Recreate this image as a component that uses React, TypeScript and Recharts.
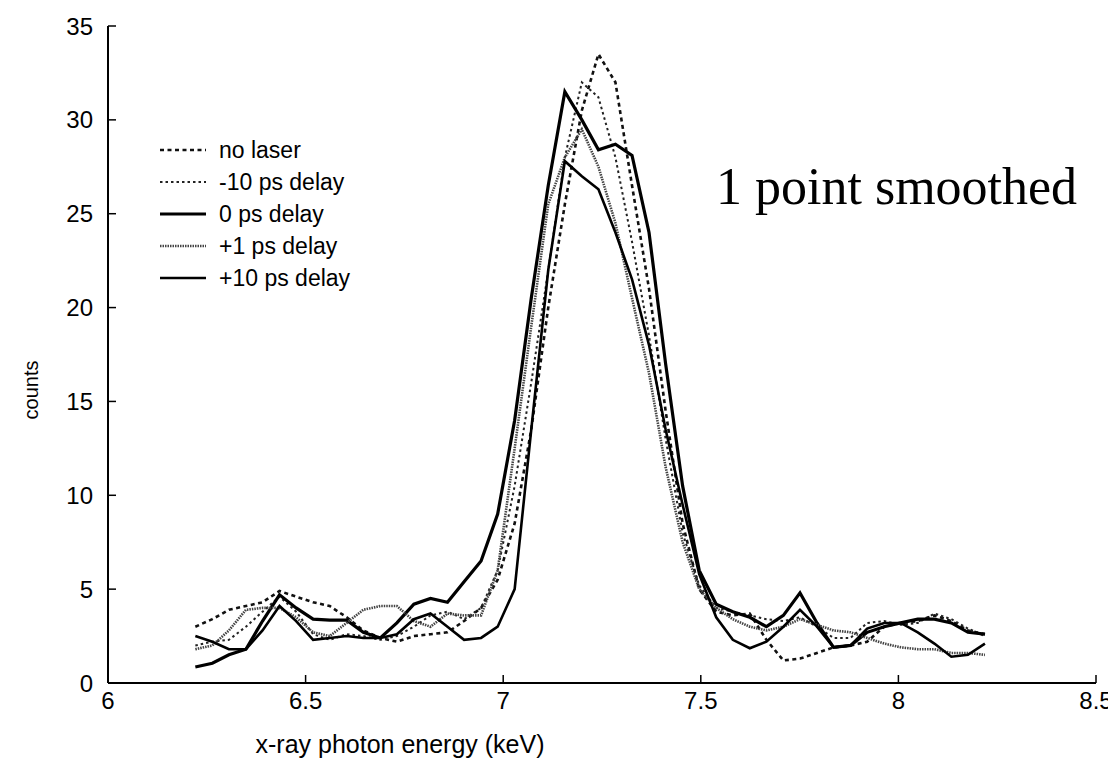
import React from 'react';
import { LineChart, Line, XAxis, YAxis, Legend, Customized } from 'recharts';

const energy = [6.221, 6.264, 6.306, 6.349, 6.391, 6.434, 6.476, 6.519, 6.561, 6.604, 6.646, 6.689, 6.731, 6.774, 6.816, 6.859, 6.901, 6.944, 6.986, 7.029, 7.071, 7.114, 7.156, 7.199, 7.241, 7.284, 7.326, 7.369, 7.411, 7.454, 7.496, 7.539, 7.581, 7.624, 7.666, 7.709, 7.751, 7.794, 7.836, 7.879, 7.921, 7.964, 8.006, 8.049, 8.091, 8.134, 8.176, 8.219];

const noLaser = [3.0, 3.4, 3.9, 4.1, 4.3, 4.9, 4.6, 4.3, 4.1, 3.5, 2.8, 2.4, 2.2, 2.5, 2.6, 2.7, 3.3, 4.0,
  5.5, 8.5, 13.5, 20.0, 25.5, 30.5, 33.5, 32.0, 26.5, 21.0, 14.5, 8.5,
  5.0, 3.8, 3.6, 3.7, 2.3, 1.2, 1.3, 1.6, 1.9, 2.0, 2.2, 3.0, 3.2, 3.3, 3.6, 3.3, 2.8, 2.6];

const minus10 = [2.0, 2.2, 2.3, 3.0, 3.8, 4.6, 3.8, 2.6, 2.3, 2.6, 2.5, 2.3, 2.5, 3.0, 3.6, 3.8, 3.4, 4.0,
  6.0, 10.5, 16.0, 22.0, 28.0, 32.0, 31.2, 28.0, 23.5, 18.5, 13.0, 8.0,
  5.2, 4.0, 3.8, 3.6, 3.4, 3.3, 3.5, 3.0, 2.4, 2.4, 3.2, 3.3, 3.1, 3.2, 3.7, 3.4, 2.9, 2.5];

const zeroPs = [0.85, 1.05, 1.5, 1.8, 3.3, 4.7, 4.0, 3.4, 3.35, 3.35, 2.7, 2.4, 3.2, 4.2, 4.5, 4.3, 5.4, 6.5,
  9.0, 14.0, 20.5, 26.5, 31.5, 30.0, 28.4, 28.7, 28.1, 24.0, 17.0, 10.5,
  6.0, 4.2, 3.8, 3.5, 3.0, 3.6, 4.8, 3.2, 1.9, 2.0, 2.7, 3.0, 3.2, 3.4, 3.4, 3.2, 2.7, 2.6];

const plusOne = [1.8, 2.0, 2.8, 3.9, 4.0, 4.0, 3.5, 2.7, 2.5, 3.2, 3.9, 4.1, 4.1, 3.3, 3.0, 3.7, 3.6, 3.6,
  6.0, 12.5, 19.0, 25.5, 28.0, 29.5, 27.5, 24.5, 20.5, 16.5, 11.5, 7.5,
  5.0, 4.0, 3.4, 3.0, 2.8, 3.0, 3.4, 3.1, 2.8, 2.7, 2.4, 2.1, 1.9, 1.8, 1.8, 1.6, 1.6, 1.5];

const plusTen = [2.5, 2.2, 1.8, 1.8, 2.8, 4.1, 3.3, 2.3, 2.4, 2.5, 2.4, 2.4, 2.6, 3.4, 3.7, 3.0, 2.3, 2.4,
  3.0, 5.0, 13.5, 22.0, 27.8, 27.0, 26.3, 24.0, 21.5, 18.0, 13.5, 9.5,
  5.8, 3.5, 2.3, 1.85, 2.2, 3.0, 3.9, 3.0, 1.9, 2.0, 2.9, 3.2, 3.2, 2.7, 2.1, 1.4, 1.5, 2.1];

const xTicks = [6, 6.5, 7, 7.5, 8, 8.5];
const yTicks = [0, 5, 10, 15, 20, 25, 30, 35];

const seriesNames = ['no laser', '-10 ps delay', '0 ps delay', '+1 ps delay', '+10 ps delay'];

const data = energy.map((e, i) => ({
  e,
  noLaser: noLaser[i],
  minus10: minus10[i],
  zeroPs: zeroPs[i],
  plusOne: plusOne[i],
  plusTen: plusTen[i],
}));

const styles = [
  { key: 'noLaser', stroke: '#111', width: 2.6, dash: '4 3.5' },
  { key: 'minus10', stroke: '#222', width: 2, dash: '2.5 3' },
  { key: 'zeroPs', stroke: '#000', width: 3.2, dash: undefined },
  { key: 'plusOne', stroke: '#444', width: 2.6, dash: '1.5 1' },
  { key: 'plusTen', stroke: '#000', width: 2.6, dash: undefined },
];

const FONT = '"Liberation Sans", Arial, sans-serif';
const TICK = 8;

const BottomTick = (props: any) => {
  const { x, y, payload } = props;
  return (
    <g>
      <line x1={x} y1={y} x2={x} y2={y - TICK} stroke="#000" strokeWidth={1.5} />
      <text x={x} y={y + 26} textAnchor="middle" fontFamily={FONT} fontSize={24} fill="#000">
        {payload.value}
      </text>
    </g>
  );
};

const TopTick = (props: any) => {
  const { x, y } = props;
  return <line x1={x} y1={y} x2={x} y2={y + TICK} stroke="#000" strokeWidth={1.5} />;
};

const LeftTick = (props: any) => {
  const { x, y, payload } = props;
  return (
    <g>
      <line x1={x} y1={y} x2={x + TICK} y2={y} stroke="#000" strokeWidth={1.5} />
      <text x={x - 15} y={y + 8.5} textAnchor="end" fontFamily={FONT} fontSize={24} fill="#000">
        {payload.value}
      </text>
    </g>
  );
};

const RightTick = (props: any) => {
  const { x, y } = props;
  return <line x1={x} y1={y} x2={x - TICK} y2={y} stroke="#000" strokeWidth={1.5} />;
};

const LegendContent = () => (
  <div style={{ fontFamily: FONT, fontSize: 23, color: '#000' }}>
    {styles.map((s, i) => (
      <div key={s.key} style={{ display: 'flex', alignItems: 'center', height: 32 }}>
        <svg width={46} height={10} style={{ marginRight: 13 }}>
          <line x1={0} y1={5} x2={46} y2={5} stroke={s.stroke} strokeWidth={s.width} strokeDasharray={s.dash} />
        </svg>
        <span>{seriesNames[i]}</span>
      </div>
    ))}
  </div>
);

const Annotations = () => (
  <g>
    <text x={708} y={196} fontFamily='"Liberation Serif", "Times New Roman", serif' fontSize={52} fill="#000">
      1 point smoothed
    </text>
    <text x={392} y={745} textAnchor="middle" fontFamily={FONT} fontSize={25} fill="#000">
      x-ray photon energy (keV)
    </text>
    <text x={30} y={382} textAnchor="middle" fontFamily={FONT} fontSize={20} fill="#000" transform="rotate(-90 30 382)">
      counts
    </text>
  </g>
);

export default function App() {
  return (
    <div style={{ width: 1108, height: 770, background: '#fff' }}>
      <LineChart width={1108} height={770} data={data} margin={{ top: 18, right: 20, left: 40, bottom: 55 }}>
        <XAxis xAxisId="b" dataKey="e" type="number" domain={[6, 8.5]} ticks={xTicks} interval={0}
          height={40} tickSize={0} tickMargin={0} tickLine={false} tick={<BottomTick />}
          axisLine={{ stroke: '#000', strokeWidth: 2 }} allowDataOverflow />
        <XAxis xAxisId="t" orientation="top" dataKey="e" type="number" domain={[6, 8.5]} ticks={xTicks} interval={0}
          height={0} tickSize={0} tickMargin={0} tickLine={false} tick={<TopTick />}
          axisLine={{ stroke: '#000', strokeWidth: 2 }} allowDataOverflow />
        <YAxis yAxisId="l" type="number" domain={[0, 35]} ticks={yTicks} interval={0}
          width={60} tickSize={0} tickMargin={0} tickLine={false} tick={<LeftTick />}
          axisLine={{ stroke: '#000', strokeWidth: 2 }} allowDataOverflow />
        <YAxis yAxisId="r" orientation="right" type="number" domain={[0, 35]} ticks={yTicks} interval={0}
          width={0} tickSize={0} tickMargin={0} tickLine={false} tick={<RightTick />}
          axisLine={{ stroke: '#000', strokeWidth: 2 }} allowDataOverflow />
        {styles.map((s, i) => (
          <Line key={s.key} xAxisId="b" yAxisId="l" type="linear" dataKey={s.key} name={seriesNames[i]}
            stroke={s.stroke} strokeWidth={s.width} strokeDasharray={s.dash}
            dot={false} activeDot={false} isAnimationActive={false} />
        ))}
        <Legend content={<LegendContent />} layout="vertical" verticalAlign="middle" align="center"
          wrapperStyle={{ position: 'absolute', left: 152, top: 126, width: 260 }} />
        <Customized component={<Annotations />} />
      </LineChart>
    </div>
  );
}
